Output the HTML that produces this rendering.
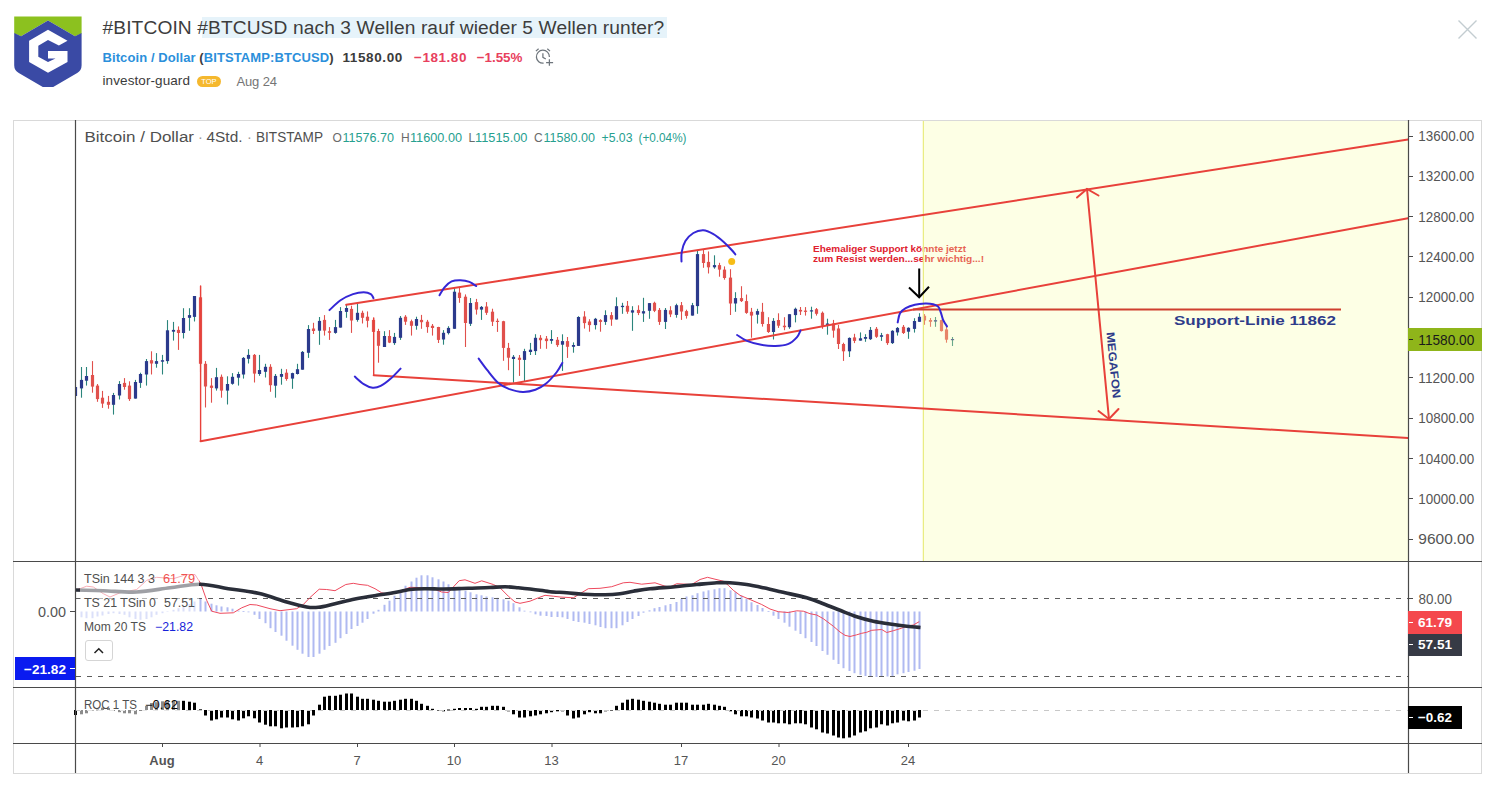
<!DOCTYPE html>
<html lang="de"><head><meta charset="utf-8"><title>#BITCOIN #BTCUSD nach 3 Wellen rauf wieder 5 Wellen runter?</title>
<style>
html,body{margin:0;padding:0;background:#fff;}
body{width:1499px;height:785px;position:relative;overflow:hidden;font-family:"Liberation Sans",sans-serif;color:#3b3b3b;}
.abs{position:absolute;white-space:nowrap;line-height:1;}
#hl{left:202px;top:17px;width:465px;height:21px;background:#e6f3fa;}
#title{left:102.5px;top:16.8px;font-size:19.2px;letter-spacing:0.1px;color:#3d3d3d;height:22px;line-height:22px;}
#sym{left:102.5px;top:51.4px;font-size:13px;letter-spacing:0.09px;font-weight:bold;color:#3b3b3b;}
#sym a{color:#2b8fdb;text-decoration:none;}
#price{left:342.5px;top:50.9px;font-size:13.5px;letter-spacing:0.6px;font-weight:bold;color:#3b3b3b;}
#chg{left:414px;top:50.9px;font-size:13.5px;letter-spacing:0.54px;font-weight:bold;color:#e8405d;}
#pct{left:476.7px;top:50.9px;font-size:13.4px;font-weight:bold;color:#e8405d;}
#user{left:102.5px;top:74.2px;font-size:13.5px;letter-spacing:0.09px;color:#3b3b3b;}
#top{left:197px;top:76px;width:24px;height:10.5px;border-radius:6px;background:#f5b82e;color:#fff;font-size:7.5px;line-height:11px;text-align:center;}
#date{left:236.4px;top:74.5px;font-size:13px;letter-spacing:-0.1px;color:#757575;}
svg{position:absolute;left:0;top:0;}
svg text{font-family:"Liberation Sans",sans-serif;}
</style></head><body>

<svg id="logo" width="90" height="100" viewBox="0 0 90 100" style="left:0;top:0">
<polygon fill="#8cc11f" points="14.2,16.6 81.6,16.6 81.6,33.5 75.0,36.2 48.0,20.6 21.1,36.2 14.2,33.5"/>
<path fill="#3a4aa5" d="M14.2 33.0 L21.1 36.2 L48.0 20.4 L75.0 36.2 L81.6 33.0 L81.6 65.3 Q81.6 70.5 77.2 73.1 L53.2 86.9 L42.8 86.9 L18.8 73.1 Q14.2 70.5 14.2 65.3 Z"/>
<polygon fill="#fff" points="67.5,40.7 58.9,45.6 48.0,40.1 38.3,45.8 38.3,56.7 48.0,61.9 55.5,58.5 48.0,58.5 48.0,51.0 67.5,51.0 67.5,61.9 48.0,72.8 29.1,61.9 29.1,40.7 48.0,29.8"/>
</svg>
<div id="hl" class="abs"></div><div id="title" class="abs">#BITCOIN #BTCUSD nach 3 Wellen rauf wieder 5 Wellen runter?</div>
<div id="sym" class="abs"><a>Bitcoin / Dollar</a> (<a>BITSTAMP:BTCUSD</a>)</div>
<div id="price" class="abs">11580.00</div><div id="chg" class="abs">&#8722;181.80</div><div id="pct" class="abs">&#8722;1.55%</div>
<div id="user" class="abs">investor-guard</div><div id="top" class="abs">TOP</div><div id="date" class="abs">Aug 24</div>
<svg width="1499" height="785" viewBox="0 0 1499 785">
<g fill="none" stroke="#6e757c" stroke-width="1.25"><path d="M549.4 56.9A6.5 6.5 0 1 0 543.6 63.2"/><path d="M542.9 53.2v4.2l2.9 1.6"/><path d="M535.9 51.1l2.7-2.4M547.3 48.7l2.7 2.4"/><path d="M549.4 59.2v6.6M546.1 62.5h7"/></g>
<path d="M1458.5 20.5L1476.5 38.5M1476.5 20.5L1458.5 38.5" stroke="#c3cdd1" stroke-width="1.4" fill="none"/>
<rect x="13.5" y="120.5" width="1468" height="653" fill="#fff" stroke="#d9d9d9" stroke-width="1"/>
<g id="candles">
<path d="M75.5 385.0V398.0" stroke="#2b857c" stroke-width="1.1"/>
<rect x="73.9" y="387.0" width="3.2" height="9.0" fill="#2b3a8c"/>
<path d="M81.5 367.0V397.7" stroke="#2b857c" stroke-width="1.1"/>
<rect x="79.9" y="379.9" width="3.2" height="8.5" fill="#2b3a8c"/>
<path d="M86.5 367.0V385.6" stroke="#2b857c" stroke-width="1.1"/>
<rect x="84.9" y="376.0" width="3.2" height="4.7" fill="#2b3a8c"/>
<path d="M92.5 361.1V392.7" stroke="#e0504c" stroke-width="1.1"/>
<rect x="90.9" y="375.0" width="3.2" height="11.6" fill="#e0504c"/>
<path d="M97.5 384.0V401.8" stroke="#e0504c" stroke-width="1.1"/>
<rect x="95.9" y="385.6" width="3.2" height="13.5" fill="#e0504c"/>
<path d="M102.5 390.9V407.9" stroke="#e0504c" stroke-width="1.1"/>
<rect x="100.9" y="397.7" width="3.2" height="5.9" fill="#e0504c"/>
<path d="M108.5 395.9V408.7" stroke="#e0504c" stroke-width="1.1"/>
<rect x="106.9" y="401.8" width="3.2" height="3.0" fill="#e0504c"/>
<path d="M113.5 392.9V414.6" stroke="#2b857c" stroke-width="1.1"/>
<rect x="111.9" y="395.0" width="3.2" height="9.8" fill="#2b3a8c"/>
<path d="M119.5 381.1V399.5" stroke="#2b857c" stroke-width="1.1"/>
<rect x="117.9" y="384.0" width="3.2" height="11.5" fill="#2b3a8c"/>
<path d="M124.5 378.1V389.7" stroke="#e0504c" stroke-width="1.1"/>
<rect x="122.9" y="382.9" width="3.2" height="4.1" fill="#e0504c"/>
<path d="M129.5 381.3V400.9" stroke="#e0504c" stroke-width="1.1"/>
<rect x="127.9" y="385.6" width="3.2" height="13.5" fill="#e0504c"/>
<path d="M135.5 379.9V398.6" stroke="#2b857c" stroke-width="1.1"/>
<rect x="133.9" y="382.0" width="3.2" height="16.6" fill="#2b3a8c"/>
<path d="M140.5 372.7V387.9" stroke="#2b857c" stroke-width="1.1"/>
<rect x="138.9" y="374.0" width="3.2" height="8.9" fill="#2b3a8c"/>
<path d="M146.5 359.0V385.6" stroke="#2b857c" stroke-width="1.1"/>
<rect x="144.9" y="361.1" width="3.2" height="13.4" fill="#2b3a8c"/>
<path d="M151.5 351.3V374.5" stroke="#e0504c" stroke-width="1.1"/>
<rect x="149.9" y="360.2" width="3.2" height="3.3" fill="#e0504c"/>
<path d="M156.5 353.1V367.7" stroke="#2b857c" stroke-width="1.1"/>
<rect x="154.9" y="361.1" width="3.2" height="2.7" fill="#2b3a8c"/>
<path d="M162.5 354.9V374.5" stroke="#2b857c" stroke-width="1.1"/>
<rect x="160.9" y="360.2" width="3.2" height="1.5" fill="#2b3a8c"/>
<path d="M167.5 320.1V363.8" stroke="#2b857c" stroke-width="1.1"/>
<rect x="165.9" y="330.3" width="3.2" height="30.8" fill="#2b3a8c"/>
<path d="M173.5 321.9V340.6" stroke="#2b857c" stroke-width="1.1"/>
<rect x="171.9" y="329.9" width="3.2" height="1.8" fill="#2b3a8c"/>
<path d="M178.5 326.4V349.9" stroke="#e0504c" stroke-width="1.1"/>
<rect x="176.9" y="329.9" width="3.2" height="3.1" fill="#e0504c"/>
<path d="M183.5 308.2V338.5" stroke="#2b857c" stroke-width="1.1"/>
<rect x="181.9" y="318.0" width="3.2" height="15.0" fill="#2b3a8c"/>
<path d="M189.5 308.2V330.8" stroke="#2b857c" stroke-width="1.1"/>
<rect x="187.9" y="315.1" width="3.2" height="2.7" fill="#2b3a8c"/>
<path d="M194.5 296.0V321.5" stroke="#2b857c" stroke-width="1.1"/>
<rect x="192.9" y="296.0" width="3.2" height="20.9" fill="#2b3a8c"/>
<path d="M200.5 286.2V372.0" stroke="#e0504c" stroke-width="1.1"/>
<rect x="198.9" y="297.3" width="3.2" height="66.5" fill="#e0504c"/>
<path d="M205.5 361.1V407.5" stroke="#e0504c" stroke-width="1.1"/>
<rect x="203.9" y="363.8" width="3.2" height="22.7" fill="#e0504c"/>
<path d="M211.5 378.1V402.7" stroke="#e0504c" stroke-width="1.1"/>
<rect x="209.9" y="385.6" width="3.2" height="2.3" fill="#e0504c"/>
<path d="M216.5 367.9V390.6" stroke="#2b857c" stroke-width="1.1"/>
<rect x="214.9" y="377.2" width="3.2" height="11.2" fill="#2b3a8c"/>
<path d="M221.5 374.5V397.7" stroke="#e0504c" stroke-width="1.1"/>
<rect x="219.9" y="376.8" width="3.2" height="13.8" fill="#e0504c"/>
<path d="M227.5 376.3V404.5" stroke="#2b857c" stroke-width="1.1"/>
<rect x="225.9" y="384.0" width="3.2" height="6.6" fill="#2b3a8c"/>
<path d="M232.5 373.1V384.7" stroke="#2b857c" stroke-width="1.1"/>
<rect x="230.9" y="376.8" width="3.2" height="7.0" fill="#2b3a8c"/>
<path d="M238.5 371.8V385.6" stroke="#2b857c" stroke-width="1.1"/>
<rect x="236.9" y="374.0" width="3.2" height="3.7" fill="#2b3a8c"/>
<path d="M243.5 357.0V378.6" stroke="#2b857c" stroke-width="1.1"/>
<rect x="241.9" y="357.9" width="3.2" height="16.6" fill="#2b3a8c"/>
<path d="M248.5 349.2V363.5" stroke="#2b857c" stroke-width="1.1"/>
<rect x="246.9" y="354.9" width="3.2" height="3.9" fill="#2b3a8c"/>
<path d="M254.5 354.0V382.5" stroke="#e0504c" stroke-width="1.1"/>
<rect x="252.9" y="354.9" width="3.2" height="18.7" fill="#e0504c"/>
<path d="M259.5 354.9V375.8" stroke="#2b857c" stroke-width="1.1"/>
<rect x="257.9" y="370.0" width="3.2" height="4.0" fill="#2b3a8c"/>
<path d="M265.5 363.8V377.5" stroke="#2b857c" stroke-width="1.1"/>
<rect x="263.9" y="366.8" width="3.2" height="5.0" fill="#2b3a8c"/>
<path d="M270.5 364.2V391.8" stroke="#e0504c" stroke-width="1.1"/>
<rect x="268.9" y="366.8" width="3.2" height="18.4" fill="#e0504c"/>
<path d="M275.5 374.0V397.7" stroke="#2b857c" stroke-width="1.1"/>
<rect x="273.9" y="375.9" width="3.2" height="9.8" fill="#2b3a8c"/>
<path d="M281.5 368.8V384.7" stroke="#2b857c" stroke-width="1.1"/>
<rect x="279.9" y="374.0" width="3.2" height="2.8" fill="#2b3a8c"/>
<path d="M286.5 369.2V380.7" stroke="#e0504c" stroke-width="1.1"/>
<rect x="284.9" y="372.7" width="3.2" height="6.3" fill="#e0504c"/>
<path d="M292.5 372.7V388.8" stroke="#2b857c" stroke-width="1.1"/>
<rect x="290.9" y="373.1" width="3.2" height="5.5" fill="#2b3a8c"/>
<path d="M297.5 363.8V374.5" stroke="#2b857c" stroke-width="1.1"/>
<rect x="295.9" y="369.2" width="3.2" height="4.8" fill="#2b3a8c"/>
<path d="M302.5 351.0V369.7" stroke="#2b857c" stroke-width="1.1"/>
<rect x="300.9" y="351.9" width="3.2" height="17.8" fill="#2b3a8c"/>
<path d="M308.5 325.1V357.9" stroke="#2b857c" stroke-width="1.1"/>
<rect x="306.9" y="329.0" width="3.2" height="23.8" fill="#2b3a8c"/>
<path d="M313.5 322.8V334.0" stroke="#e0504c" stroke-width="1.1"/>
<rect x="311.9" y="328.5" width="3.2" height="2.5" fill="#e0504c"/>
<path d="M319.5 317.0V344.8" stroke="#2b857c" stroke-width="1.1"/>
<rect x="317.9" y="320.9" width="3.2" height="9.8" fill="#2b3a8c"/>
<path d="M324.5 315.1V335.6" stroke="#e0504c" stroke-width="1.1"/>
<rect x="322.9" y="319.9" width="3.2" height="10.7" fill="#e0504c"/>
<path d="M329.5 327.1V339.9" stroke="#e0504c" stroke-width="1.1"/>
<rect x="327.9" y="331.2" width="3.2" height="1.6" fill="#e0504c"/>
<path d="M335.5 319.9V333.7" stroke="#2b857c" stroke-width="1.1"/>
<rect x="333.9" y="327.1" width="3.2" height="5.8" fill="#2b3a8c"/>
<path d="M340.5 307.1V327.6" stroke="#2b857c" stroke-width="1.1"/>
<rect x="338.9" y="311.0" width="3.2" height="16.6" fill="#2b3a8c"/>
<path d="M346.5 304.8V317.8" stroke="#2b857c" stroke-width="1.1"/>
<rect x="344.9" y="308.0" width="3.2" height="3.9" fill="#2b3a8c"/>
<path d="M351.5 305.7V332.9" stroke="#e0504c" stroke-width="1.1"/>
<rect x="349.9" y="308.9" width="3.2" height="11.6" fill="#e0504c"/>
<path d="M357.5 303.9V321.7" stroke="#2b857c" stroke-width="1.1"/>
<rect x="355.9" y="312.8" width="3.2" height="7.1" fill="#2b3a8c"/>
<path d="M362.5 310.7V323.5" stroke="#e0504c" stroke-width="1.1"/>
<rect x="360.9" y="312.8" width="3.2" height="5.0" fill="#e0504c"/>
<path d="M367.5 311.4V327.4" stroke="#e0504c" stroke-width="1.1"/>
<rect x="365.9" y="316.7" width="3.2" height="4.1" fill="#e0504c"/>
<path d="M373.5 317.8V340.0" stroke="#e0504c" stroke-width="1.1"/>
<rect x="371.9" y="319.9" width="3.2" height="12.0" fill="#e0504c"/>
<path d="M378.5 328.8V362.7" stroke="#e0504c" stroke-width="1.1"/>
<rect x="376.9" y="331.0" width="3.2" height="14.8" fill="#e0504c"/>
<path d="M384.5 331.2V347.0" stroke="#2b857c" stroke-width="1.1"/>
<rect x="382.9" y="336.0" width="3.2" height="11.0" fill="#2b3a8c"/>
<path d="M389.5 330.1V343.1" stroke="#e0504c" stroke-width="1.1"/>
<rect x="387.9" y="336.0" width="3.2" height="6.6" fill="#e0504c"/>
<path d="M394.5 332.9V344.9" stroke="#2b857c" stroke-width="1.1"/>
<rect x="392.9" y="336.9" width="3.2" height="6.2" fill="#2b3a8c"/>
<path d="M400.5 316.0V339.9" stroke="#2b857c" stroke-width="1.1"/>
<rect x="398.9" y="317.8" width="3.2" height="20.0" fill="#2b3a8c"/>
<path d="M405.5 315.1V324.9" stroke="#e0504c" stroke-width="1.1"/>
<rect x="403.9" y="316.7" width="3.2" height="5.0" fill="#e0504c"/>
<path d="M411.5 319.6V335.6" stroke="#e0504c" stroke-width="1.1"/>
<rect x="409.9" y="321.2" width="3.2" height="4.6" fill="#e0504c"/>
<path d="M416.5 316.7V329.7" stroke="#2b857c" stroke-width="1.1"/>
<rect x="414.9" y="319.0" width="3.2" height="6.8" fill="#2b3a8c"/>
<path d="M421.5 314.9V328.8" stroke="#e0504c" stroke-width="1.1"/>
<rect x="419.9" y="319.9" width="3.2" height="2.3" fill="#e0504c"/>
<path d="M427.5 319.9V332.8" stroke="#e0504c" stroke-width="1.1"/>
<rect x="425.9" y="321.7" width="3.2" height="5.4" fill="#e0504c"/>
<path d="M432.5 324.0V335.6" stroke="#e0504c" stroke-width="1.1"/>
<rect x="430.9" y="325.8" width="3.2" height="2.2" fill="#e0504c"/>
<path d="M438.5 326.8V343.0" stroke="#e0504c" stroke-width="1.1"/>
<rect x="436.9" y="327.0" width="3.2" height="12.9" fill="#e0504c"/>
<path d="M443.5 330.1V344.7" stroke="#2b857c" stroke-width="1.1"/>
<rect x="441.9" y="332.8" width="3.2" height="6.7" fill="#2b3a8c"/>
<path d="M448.5 326.2V334.5" stroke="#2b857c" stroke-width="1.1"/>
<rect x="446.9" y="327.9" width="3.2" height="5.2" fill="#2b3a8c"/>
<path d="M454.5 288.2V328.8" stroke="#2b857c" stroke-width="1.1"/>
<rect x="452.9" y="291.7" width="3.2" height="37.1" fill="#2b3a8c"/>
<path d="M459.5 287.8V302.8" stroke="#e0504c" stroke-width="1.1"/>
<rect x="457.9" y="292.6" width="3.2" height="5.4" fill="#e0504c"/>
<path d="M465.5 294.4V347.0" stroke="#e0504c" stroke-width="1.1"/>
<rect x="463.9" y="296.7" width="3.2" height="26.3" fill="#e0504c"/>
<path d="M470.5 298.0V326.0" stroke="#2b857c" stroke-width="1.1"/>
<rect x="468.9" y="303.0" width="3.2" height="20.8" fill="#2b3a8c"/>
<path d="M476.5 298.9V314.6" stroke="#e0504c" stroke-width="1.1"/>
<rect x="474.9" y="302.1" width="3.2" height="7.5" fill="#e0504c"/>
<path d="M481.5 306.0V319.9" stroke="#2b857c" stroke-width="1.1"/>
<rect x="479.9" y="306.9" width="3.2" height="2.7" fill="#2b3a8c"/>
<path d="M486.5 302.1V314.9" stroke="#e0504c" stroke-width="1.1"/>
<rect x="484.9" y="306.5" width="3.2" height="6.3" fill="#e0504c"/>
<path d="M492.5 308.7V326.0" stroke="#e0504c" stroke-width="1.1"/>
<rect x="490.9" y="311.7" width="3.2" height="10.0" fill="#e0504c"/>
<path d="M497.5 318.5V331.9" stroke="#e0504c" stroke-width="1.1"/>
<rect x="495.9" y="320.8" width="3.2" height="1.2" fill="#e0504c"/>
<path d="M503.5 320.8V360.8" stroke="#e0504c" stroke-width="1.1"/>
<rect x="501.9" y="321.2" width="3.2" height="26.7" fill="#e0504c"/>
<path d="M508.5 342.9V370.2" stroke="#e0504c" stroke-width="1.1"/>
<rect x="506.9" y="347.9" width="3.2" height="9.8" fill="#e0504c"/>
<path d="M513.5 355.0V382.7" stroke="#2b857c" stroke-width="1.1"/>
<rect x="511.9" y="356.8" width="3.2" height="2.2" fill="#2b3a8c"/>
<path d="M519.5 355.0V375.9" stroke="#e0504c" stroke-width="1.1"/>
<rect x="517.9" y="357.7" width="3.2" height="2.2" fill="#e0504c"/>
<path d="M524.5 348.8V381.3" stroke="#2b857c" stroke-width="1.1"/>
<rect x="522.9" y="351.1" width="3.2" height="8.8" fill="#2b3a8c"/>
<path d="M530.5 342.9V355.0" stroke="#2b857c" stroke-width="1.1"/>
<rect x="528.9" y="349.7" width="3.2" height="2.3" fill="#2b3a8c"/>
<path d="M535.5 334.2V355.0" stroke="#2b857c" stroke-width="1.1"/>
<rect x="533.9" y="337.8" width="3.2" height="13.3" fill="#2b3a8c"/>
<path d="M540.5 335.1V348.8" stroke="#e0504c" stroke-width="1.1"/>
<rect x="538.9" y="337.8" width="3.2" height="2.4" fill="#e0504c"/>
<path d="M546.5 336.0V348.8" stroke="#e0504c" stroke-width="1.1"/>
<rect x="544.9" y="338.6" width="3.2" height="2.5" fill="#e0504c"/>
<path d="M551.5 330.1V343.8" stroke="#2b857c" stroke-width="1.1"/>
<rect x="549.9" y="339.0" width="3.2" height="1.8" fill="#2b3a8c"/>
<path d="M557.5 337.0V346.9" stroke="#e0504c" stroke-width="1.1"/>
<rect x="555.9" y="339.8" width="3.2" height="5.3" fill="#e0504c"/>
<path d="M562.5 334.3V370.9" stroke="#2b857c" stroke-width="1.1"/>
<rect x="560.9" y="341.1" width="3.2" height="3.6" fill="#2b3a8c"/>
<path d="M567.5 337.0V357.9" stroke="#e0504c" stroke-width="1.1"/>
<rect x="565.9" y="341.1" width="3.2" height="5.7" fill="#e0504c"/>
<path d="M573.5 342.4V352.7" stroke="#2b857c" stroke-width="1.1"/>
<rect x="571.9" y="345.0" width="3.2" height="1.8" fill="#2b3a8c"/>
<path d="M578.5 316.2V345.9" stroke="#2b857c" stroke-width="1.1"/>
<rect x="576.9" y="317.0" width="3.2" height="28.9" fill="#2b3a8c"/>
<path d="M584.5 311.2V328.6" stroke="#e0504c" stroke-width="1.1"/>
<rect x="582.9" y="316.5" width="3.2" height="6.6" fill="#e0504c"/>
<path d="M589.5 319.2V331.7" stroke="#e0504c" stroke-width="1.1"/>
<rect x="587.9" y="321.5" width="3.2" height="3.6" fill="#e0504c"/>
<path d="M595.5 317.9V329.5" stroke="#2b857c" stroke-width="1.1"/>
<rect x="593.9" y="318.8" width="3.2" height="6.3" fill="#2b3a8c"/>
<path d="M600.5 319.2V331.7" stroke="#e0504c" stroke-width="1.1"/>
<rect x="598.9" y="320.1" width="3.2" height="1.8" fill="#e0504c"/>
<path d="M605.5 310.3V324.9" stroke="#2b857c" stroke-width="1.1"/>
<rect x="603.9" y="315.1" width="3.2" height="6.8" fill="#2b3a8c"/>
<path d="M611.5 312.1V325.8" stroke="#e0504c" stroke-width="1.1"/>
<rect x="609.9" y="315.1" width="3.2" height="4.4" fill="#e0504c"/>
<path d="M616.5 297.3V319.5" stroke="#2b857c" stroke-width="1.1"/>
<rect x="614.9" y="306.2" width="3.2" height="13.3" fill="#2b3a8c"/>
<path d="M622.5 302.8V313.8" stroke="#2b857c" stroke-width="1.1"/>
<rect x="620.9" y="305.8" width="3.2" height="1.3" fill="#2b3a8c"/>
<path d="M627.5 301.0V313.8" stroke="#e0504c" stroke-width="1.1"/>
<rect x="625.9" y="305.8" width="3.2" height="5.9" fill="#e0504c"/>
<path d="M632.5 306.2V330.8" stroke="#2b857c" stroke-width="1.1"/>
<rect x="630.9" y="310.3" width="3.2" height="2.3" fill="#2b3a8c"/>
<path d="M638.5 305.3V315.1" stroke="#e0504c" stroke-width="1.1"/>
<rect x="636.9" y="309.9" width="3.2" height="3.1" fill="#e0504c"/>
<path d="M643.5 297.8V321.9" stroke="#2b857c" stroke-width="1.1"/>
<rect x="641.9" y="311.2" width="3.2" height="2.3" fill="#2b3a8c"/>
<path d="M649.5 303.1V318.8" stroke="#2b857c" stroke-width="1.1"/>
<rect x="647.9" y="303.1" width="3.2" height="7.7" fill="#2b3a8c"/>
<path d="M654.5 301.7V312.1" stroke="#e0504c" stroke-width="1.1"/>
<rect x="652.9" y="302.8" width="3.2" height="8.0" fill="#e0504c"/>
<path d="M659.5 308.0V324.9" stroke="#e0504c" stroke-width="1.1"/>
<rect x="657.9" y="309.9" width="3.2" height="12.0" fill="#e0504c"/>
<path d="M665.5 308.0V329.0" stroke="#2b857c" stroke-width="1.1"/>
<rect x="663.9" y="309.9" width="3.2" height="12.0" fill="#2b3a8c"/>
<path d="M670.5 306.2V317.1" stroke="#e0504c" stroke-width="1.1"/>
<rect x="668.9" y="310.3" width="3.2" height="4.1" fill="#e0504c"/>
<path d="M676.5 303.7V317.7" stroke="#2b857c" stroke-width="1.1"/>
<rect x="674.9" y="305.2" width="3.2" height="9.7" fill="#2b3a8c"/>
<path d="M681.5 302.0V319.9" stroke="#e0504c" stroke-width="1.1"/>
<rect x="679.9" y="305.2" width="3.2" height="6.3" fill="#e0504c"/>
<path d="M686.5 309.7V318.6" stroke="#e0504c" stroke-width="1.1"/>
<rect x="684.9" y="311.1" width="3.2" height="4.8" fill="#e0504c"/>
<path d="M692.5 302.9V315.6" stroke="#2b857c" stroke-width="1.1"/>
<rect x="690.9" y="305.2" width="3.2" height="10.4" fill="#2b3a8c"/>
<path d="M697.5 250.5V313.8" stroke="#2b857c" stroke-width="1.1"/>
<rect x="695.9" y="254.1" width="3.2" height="52.0" fill="#2b3a8c"/>
<path d="M703.5 249.1V267.8" stroke="#e0504c" stroke-width="1.1"/>
<rect x="701.9" y="254.1" width="3.2" height="8.9" fill="#e0504c"/>
<path d="M708.5 251.4V273.5" stroke="#e0504c" stroke-width="1.1"/>
<rect x="706.9" y="261.9" width="3.2" height="5.4" fill="#e0504c"/>
<path d="M714.5 255.3V268.7" stroke="#2b857c" stroke-width="1.1"/>
<rect x="712.9" y="265.1" width="3.2" height="2.2" fill="#2b3a8c"/>
<path d="M719.5 262.8V276.7" stroke="#e0504c" stroke-width="1.1"/>
<rect x="717.9" y="265.1" width="3.2" height="4.5" fill="#e0504c"/>
<path d="M724.5 266.4V279.7" stroke="#e0504c" stroke-width="1.1"/>
<rect x="722.9" y="269.6" width="3.2" height="8.4" fill="#e0504c"/>
<path d="M730.5 269.2V315.0" stroke="#e0504c" stroke-width="1.1"/>
<rect x="728.9" y="277.6" width="3.2" height="25.9" fill="#e0504c"/>
<path d="M735.5 292.2V311.8" stroke="#2b857c" stroke-width="1.1"/>
<rect x="733.9" y="298.1" width="3.2" height="5.4" fill="#2b3a8c"/>
<path d="M741.5 286.2V302.0" stroke="#e0504c" stroke-width="1.1"/>
<rect x="739.9" y="298.1" width="3.2" height="3.0" fill="#e0504c"/>
<path d="M746.5 294.5V313.8" stroke="#e0504c" stroke-width="1.1"/>
<rect x="744.9" y="301.1" width="3.2" height="11.8" fill="#e0504c"/>
<path d="M751.5 307.9V337.7" stroke="#e0504c" stroke-width="1.1"/>
<rect x="749.9" y="311.8" width="3.2" height="3.8" fill="#e0504c"/>
<path d="M757.5 308.8V323.6" stroke="#2b857c" stroke-width="1.1"/>
<rect x="755.9" y="311.1" width="3.2" height="3.6" fill="#2b3a8c"/>
<path d="M762.5 302.9V326.6" stroke="#e0504c" stroke-width="1.1"/>
<rect x="760.9" y="311.8" width="3.2" height="12.2" fill="#e0504c"/>
<path d="M768.5 317.2V332.9" stroke="#e0504c" stroke-width="1.1"/>
<rect x="766.9" y="324.0" width="3.2" height="8.0" fill="#e0504c"/>
<path d="M773.5 318.1V339.5" stroke="#2b857c" stroke-width="1.1"/>
<rect x="771.9" y="320.9" width="3.2" height="11.1" fill="#2b3a8c"/>
<path d="M778.5 313.3V327.9" stroke="#e0504c" stroke-width="1.1"/>
<rect x="776.9" y="320.0" width="3.2" height="5.7" fill="#e0504c"/>
<path d="M784.5 317.2V330.2" stroke="#e0504c" stroke-width="1.1"/>
<rect x="782.9" y="325.7" width="3.2" height="1.5" fill="#e0504c"/>
<path d="M789.5 314.2V328.8" stroke="#2b857c" stroke-width="1.1"/>
<rect x="787.9" y="314.2" width="3.2" height="13.0" fill="#2b3a8c"/>
<path d="M795.5 307.6V322.4" stroke="#2b857c" stroke-width="1.1"/>
<rect x="793.9" y="308.8" width="3.2" height="6.3" fill="#2b3a8c"/>
<path d="M800.5 307.0V315.0" stroke="#e0504c" stroke-width="1.1"/>
<rect x="798.9" y="309.9" width="3.2" height="1.6" fill="#e0504c"/>
<path d="M805.5 307.1V315.6" stroke="#e0504c" stroke-width="1.1"/>
<rect x="803.9" y="310.6" width="3.2" height="1.3" fill="#e0504c"/>
<path d="M811.5 306.7V318.7" stroke="#2b857c" stroke-width="1.1"/>
<rect x="809.9" y="310.3" width="3.2" height="1.2" fill="#2b3a8c"/>
<path d="M816.5 308.0V315.6" stroke="#e0504c" stroke-width="1.1"/>
<rect x="814.9" y="309.2" width="3.2" height="4.6" fill="#e0504c"/>
<path d="M822.5 311.5V328.8" stroke="#e0504c" stroke-width="1.1"/>
<rect x="820.9" y="312.8" width="3.2" height="13.0" fill="#e0504c"/>
<path d="M827.5 318.7V334.7" stroke="#2b857c" stroke-width="1.1"/>
<rect x="825.9" y="323.5" width="3.2" height="1.7" fill="#2b3a8c"/>
<path d="M833.5 319.9V337.7" stroke="#e0504c" stroke-width="1.1"/>
<rect x="831.9" y="323.5" width="3.2" height="7.1" fill="#e0504c"/>
<path d="M838.5 324.9V349.0" stroke="#e0504c" stroke-width="1.1"/>
<rect x="836.9" y="328.5" width="3.2" height="15.5" fill="#e0504c"/>
<path d="M843.5 342.7V360.9" stroke="#e0504c" stroke-width="1.1"/>
<rect x="841.9" y="344.0" width="3.2" height="7.3" fill="#e0504c"/>
<path d="M849.5 337.4V357.0" stroke="#2b857c" stroke-width="1.1"/>
<rect x="847.9" y="337.9" width="3.2" height="13.4" fill="#2b3a8c"/>
<path d="M854.5 333.8V343.1" stroke="#e0504c" stroke-width="1.1"/>
<rect x="852.9" y="337.4" width="3.2" height="3.5" fill="#e0504c"/>
<path d="M860.5 332.4V340.6" stroke="#2b857c" stroke-width="1.1"/>
<rect x="858.9" y="338.3" width="3.2" height="2.3" fill="#2b3a8c"/>
<path d="M865.5 334.2V341.8" stroke="#2b857c" stroke-width="1.1"/>
<rect x="863.9" y="337.0" width="3.2" height="1.8" fill="#2b3a8c"/>
<path d="M870.5 327.0V340.0" stroke="#2b857c" stroke-width="1.1"/>
<rect x="868.9" y="329.9" width="3.2" height="9.3" fill="#2b3a8c"/>
<path d="M876.5 327.0V337.9" stroke="#e0504c" stroke-width="1.1"/>
<rect x="874.9" y="328.8" width="3.2" height="8.0" fill="#e0504c"/>
<path d="M881.5 332.9V340.9" stroke="#2b857c" stroke-width="1.1"/>
<rect x="879.9" y="335.2" width="3.2" height="1.6" fill="#2b3a8c"/>
<path d="M887.5 333.8V344.9" stroke="#e0504c" stroke-width="1.1"/>
<rect x="885.9" y="334.2" width="3.2" height="8.9" fill="#e0504c"/>
<path d="M892.5 330.2V344.0" stroke="#2b857c" stroke-width="1.1"/>
<rect x="890.9" y="330.8" width="3.2" height="12.3" fill="#2b3a8c"/>
<path d="M897.5 327.0V335.6" stroke="#2b857c" stroke-width="1.1"/>
<rect x="895.9" y="327.9" width="3.2" height="4.5" fill="#2b3a8c"/>
<path d="M903.5 325.0V334.0" stroke="#e0504c" stroke-width="1.1"/>
<rect x="901.9" y="326.8" width="3.2" height="6.2" fill="#e0504c"/>
<path d="M908.5 327.3V338.8" stroke="#2b857c" stroke-width="1.1"/>
<rect x="906.9" y="327.8" width="3.2" height="3.9" fill="#2b3a8c"/>
<path d="M914.5 318.2V332.6" stroke="#2b857c" stroke-width="1.1"/>
<rect x="912.9" y="321.0" width="3.2" height="7.9" fill="#2b3a8c"/>
<path d="M919.5 313.2V321.8" stroke="#2b857c" stroke-width="1.1"/>
<rect x="917.9" y="316.8" width="3.2" height="5.0" fill="#2b3a8c"/>
<path d="M924.5 314.1V324.8" stroke="#e0504c" stroke-width="1.1"/>
<rect x="922.9" y="315.8" width="3.2" height="4.7" fill="#e0504c"/>
<path d="M930.5 318.0V326.8" stroke="#e0504c" stroke-width="1.1"/>
<rect x="928.9" y="320.0" width="3.2" height="1.8" fill="#e0504c"/>
<path d="M935.5 317.0V326.8" stroke="#2b857c" stroke-width="1.1"/>
<rect x="933.9" y="320.1" width="3.2" height="1.5" fill="#2b3a8c"/>
<path d="M941.5 319.7V331.5" stroke="#e0504c" stroke-width="1.1"/>
<rect x="939.9" y="320.1" width="3.2" height="11.0" fill="#e0504c"/>
<path d="M946.5 326.4V342.7" stroke="#e0504c" stroke-width="1.1"/>
<rect x="944.9" y="329.4" width="3.2" height="10.3" fill="#e0504c"/>
<path d="M952.5 337.0V346.0" stroke="#2b857c" stroke-width="1.1"/>
<rect x="950.9" y="339.0" width="3.2" height="1.2" fill="#2b3a8c"/>
</g>
<g font-weight="bold" font-size="9.2" fill="#e0212f"><text x="813" y="251.5" textLength="153" lengthAdjust="spacingAndGlyphs">Ehemaliger Support k&#246;nnte jetzt</text><text x="813" y="261.5" textLength="171" lengthAdjust="spacingAndGlyphs">zum Resist werden...sehr wichtig...!</text></g>
<rect x="922.6" y="121" width="485.4" height="440" fill="rgba(248,255,170,0.3)"/>
<rect x="922.8" y="121" width="1.2" height="440" fill="#e9ec84"/>
<rect x="14" y="121" width="61" height="440" fill="#fff"/>
<g stroke="#e8413a" stroke-width="2" fill="none" stroke-linecap="round">
<path d="M346.2 304.8L1408 139.6"/>
<path d="M200.6 441.2L1408 218.2"/>
<path d="M373.7 375.2L1408 438"/>
<path d="M200.6 286V441.2" stroke-width="1.4"/>
<path d="M373.7 318V375.2" stroke-width="1.4"/>
<path d="M1087 189L1109 419"/>
<path d="M1077 197.5L1087 189L1098.5 195.5"/>
<path d="M1098.5 411L1109 419L1118.5 409"/>
</g>
<path d="M913 309.5H1341" stroke="#cf3f2f" stroke-width="2.2"/>
<g stroke="#3527d6" stroke-width="2" fill="none" stroke-linecap="round" stroke-linejoin="round">
<path d="M329.5 310.1C331.3 308.5 336.6 303.0 340.5 300.3C344.4 297.6 349.1 295.4 353.0 294.1C356.9 292.8 360.7 292.3 363.7 292.3C366.7 292.3 369.2 293.1 370.8 294.1C372.4 295.1 373.1 297.5 373.5 298.2"/>
<path d="M354.8 376.6C356.3 377.9 360.7 382.2 363.7 384.1C366.7 386.0 369.8 387.4 372.6 387.7C375.4 388.0 377.7 387.4 380.7 385.9C383.7 384.4 387.2 381.7 390.5 378.8C393.8 375.9 398.9 370.3 400.6 368.6"/>
<path d="M439.5 295.3C440.3 294.0 442.5 289.6 444.5 287.3C446.5 285.0 448.9 282.6 451.6 281.4C454.3 280.2 457.5 280.1 460.5 280.2C463.5 280.3 466.8 280.9 469.4 281.9C472.0 282.9 475.1 285.3 476.2 286.0"/>
<path d="M478.7 358.6C480.1 360.5 484.1 366.2 487.3 370.2C490.5 374.2 494.4 379.6 498.0 382.7C501.6 385.8 504.6 387.3 508.7 388.9C512.9 390.4 518.4 391.9 522.9 392.0C527.4 392.1 531.5 391.2 535.4 389.8C539.3 388.4 542.5 386.6 546.1 383.6C549.7 380.6 554.1 375.4 556.8 372.0C559.5 368.6 561.4 364.4 562.3 362.9"/>
<path d="M681.5 261.6C681.5 260.0 681.1 255.1 681.8 251.7C682.4 248.3 683.5 244.1 685.4 241.0C687.3 237.9 690.4 234.8 693.4 233.0C696.4 231.2 699.9 230.2 703.2 230.3C706.5 230.5 709.6 232.0 713.0 233.9C716.4 235.8 720.6 239.2 723.7 241.9C726.8 244.6 729.8 247.9 731.7 250.0C733.6 252.1 734.7 253.7 735.3 254.4"/>
<path d="M737.1 335.0C738.7 336.0 742.9 339.3 746.9 340.9C750.9 342.5 756.5 344.0 761.2 344.8C766.0 345.6 771.0 346.0 775.4 345.9C779.8 345.8 784.3 345.5 787.9 344.1C791.5 342.7 794.7 339.6 796.8 337.3C798.9 335.0 799.9 331.6 800.5 330.5"/>
<path d="M897.7 322.4C898.1 320.9 898.7 315.7 900.0 313.3C901.3 310.9 903.2 309.5 905.7 308.1C908.2 306.7 911.6 305.5 914.9 304.7C918.1 303.9 922.2 303.6 925.2 303.5C928.2 303.4 931.0 303.7 933.2 304.3C935.4 304.9 937.1 305.6 938.4 306.9C939.6 308.2 939.9 310.0 940.7 312.1C941.5 314.2 942.0 317.2 943.0 319.6C944.0 322.0 946.3 325.3 947.0 326.4"/>
</g>
<g stroke="#000" stroke-width="2" fill="none"><path d="M919.2 268.5V297"/><path d="M909 287.5L919.2 297.3L929 286.8"/></g>
<circle cx="731.7" cy="261.5" r="3.5" fill="#f7bd17"/>
<text x="1174" y="324.5" font-size="13.5" font-weight="bold" fill="#2e3b8a" textLength="162" lengthAdjust="spacingAndGlyphs">Support-Linie 11862</text>
<text transform="translate(1106.5,332.5) rotate(84.5)" font-size="11.3" font-weight="bold" fill="#2e3b8a" textLength="66.5" lengthAdjust="spacingAndGlyphs">MEGAFON</text>
<g fill="#4f4f4f"><text x="84.5" y="142" font-size="15.2" textLength="109.5" lengthAdjust="spacingAndGlyphs">Bitcoin / Dollar</text>
<text x="198" y="142" font-size="14.5" fill="#999">&#183;</text><text x="206.5" y="142" font-size="15.2" textLength="36" lengthAdjust="spacingAndGlyphs">4Std.</text><text x="247" y="142" font-size="14.5" fill="#999">&#183;</text>
<text x="256" y="142" font-size="15.2" textLength="67" lengthAdjust="spacingAndGlyphs">BITSTAMP</text></g>
<text x="332.5" y="142" font-size="12" fill="#6a6a6a">O</text><text x="342.5" y="142" font-size="13" fill="#26a08f" textLength="51.5" lengthAdjust="spacingAndGlyphs">11576.70</text>
<text x="401" y="142" font-size="12" fill="#6a6a6a">H</text><text x="410" y="142" font-size="13" fill="#26a08f" textLength="52" lengthAdjust="spacingAndGlyphs">11600.00</text>
<text x="468.5" y="142" font-size="12" fill="#6a6a6a">L</text><text x="475" y="142" font-size="13" fill="#26a08f" textLength="52.5" lengthAdjust="spacingAndGlyphs">11515.00</text>
<text x="534" y="142" font-size="12" fill="#6a6a6a">C</text><text x="543.5" y="142" font-size="13" fill="#26a08f" textLength="51.5" lengthAdjust="spacingAndGlyphs">11580.00</text>
<text x="601.5" y="142" font-size="13" fill="#26a08f" textLength="31" lengthAdjust="spacingAndGlyphs">+5.03</text><text x="638.5" y="142" font-size="13" fill="#26a08f" textLength="48" lengthAdjust="spacingAndGlyphs">(+0.04%)</text>
<g fill="#b0baf1">
<rect x="80.5" y="611.5" width="2" height="5.8"/>
<rect x="85.5" y="611.5" width="2" height="6.7"/>
<rect x="91.5" y="611.5" width="2" height="6.7"/>
<rect x="96.5" y="611.5" width="2" height="5.0"/>
<rect x="101.5" y="611.5" width="2" height="4.0"/>
<rect x="107.5" y="611.5" width="2" height="2.5"/>
<rect x="112.5" y="611.5" width="2" height="1.7"/>
<rect x="118.5" y="611.5" width="2" height="2.5"/>
<rect x="123.5" y="611.5" width="2" height="3.3"/>
<rect x="128.5" y="611.5" width="2" height="5.8"/>
<rect x="134.5" y="611.5" width="2" height="7.5"/>
<rect x="139.5" y="611.5" width="2" height="8.3"/>
<rect x="145.5" y="611.5" width="2" height="7.5"/>
<rect x="150.5" y="611.5" width="2" height="5.8"/>
<rect x="155.5" y="611.5" width="2" height="3.3"/>
<rect x="161.5" y="611.5" width="2" height="1.7"/>
<rect x="166.5" y="611.5" width="2" height="0.5"/>
<rect x="172.5" y="609.8" width="2" height="1.7"/>
<rect x="177.5" y="608.2" width="2" height="3.3"/>
<rect x="182.5" y="606.5" width="2" height="5.0"/>
<rect x="188.5" y="604.0" width="2" height="7.5"/>
<rect x="193.5" y="601.5" width="2" height="10.0"/>
<rect x="199.5" y="599.0" width="2" height="12.5"/>
<rect x="204.5" y="601.5" width="2" height="10.0"/>
<rect x="210.5" y="603.7" width="2" height="7.8"/>
<rect x="215.5" y="605.3" width="2" height="6.2"/>
<rect x="220.5" y="606.5" width="2" height="5.0"/>
<rect x="226.5" y="607.3" width="2" height="4.2"/>
<rect x="231.5" y="608.7" width="2" height="2.8"/>
<rect x="237.5" y="610.7" width="2" height="0.8"/>
<rect x="242.5" y="611.0" width="2" height="0.8"/>
<rect x="247.5" y="611.5" width="2" height="0.8"/>
<rect x="253.5" y="611.5" width="2" height="3.3"/>
<rect x="258.5" y="611.5" width="2" height="7.5"/>
<rect x="264.5" y="611.5" width="2" height="11.7"/>
<rect x="269.5" y="611.5" width="2" height="16.7"/>
<rect x="274.5" y="611.5" width="2" height="20.5"/>
<rect x="280.5" y="611.5" width="2" height="24.2"/>
<rect x="285.5" y="611.5" width="2" height="29.2"/>
<rect x="291.5" y="611.5" width="2" height="34.2"/>
<rect x="296.5" y="611.5" width="2" height="38.3"/>
<rect x="301.5" y="611.5" width="2" height="42.2"/>
<rect x="307.5" y="611.5" width="2" height="45.5"/>
<rect x="312.5" y="611.5" width="2" height="45.5"/>
<rect x="318.5" y="611.5" width="2" height="42.2"/>
<rect x="323.5" y="611.5" width="2" height="38.3"/>
<rect x="328.5" y="611.5" width="2" height="34.5"/>
<rect x="334.5" y="611.5" width="2" height="31.3"/>
<rect x="339.5" y="611.5" width="2" height="26.7"/>
<rect x="345.5" y="611.5" width="2" height="22.5"/>
<rect x="350.5" y="611.5" width="2" height="17.5"/>
<rect x="356.5" y="611.5" width="2" height="14.5"/>
<rect x="361.5" y="611.5" width="2" height="11.2"/>
<rect x="366.5" y="611.5" width="2" height="7.5"/>
<rect x="372.5" y="611.5" width="2" height="2.2"/>
<rect x="377.5" y="609.8" width="2" height="1.7"/>
<rect x="383.5" y="604.8" width="2" height="6.7"/>
<rect x="388.5" y="600.7" width="2" height="10.8"/>
<rect x="393.5" y="595.7" width="2" height="15.8"/>
<rect x="399.5" y="593.2" width="2" height="18.3"/>
<rect x="404.5" y="585.7" width="2" height="25.8"/>
<rect x="410.5" y="581.5" width="2" height="30.0"/>
<rect x="415.5" y="577.7" width="2" height="33.8"/>
<rect x="420.5" y="575.3" width="2" height="36.2"/>
<rect x="426.5" y="575.3" width="2" height="36.2"/>
<rect x="431.5" y="577.3" width="2" height="34.2"/>
<rect x="437.5" y="579.3" width="2" height="32.2"/>
<rect x="442.5" y="581.5" width="2" height="30.0"/>
<rect x="447.5" y="584.3" width="2" height="27.2"/>
<rect x="453.5" y="587.7" width="2" height="23.8"/>
<rect x="458.5" y="589.8" width="2" height="21.7"/>
<rect x="464.5" y="590.7" width="2" height="20.8"/>
<rect x="469.5" y="592.3" width="2" height="19.2"/>
<rect x="475.5" y="594.3" width="2" height="17.2"/>
<rect x="480.5" y="595.3" width="2" height="16.2"/>
<rect x="485.5" y="596.5" width="2" height="15.0"/>
<rect x="491.5" y="597.3" width="2" height="14.2"/>
<rect x="496.5" y="597.8" width="2" height="13.7"/>
<rect x="502.5" y="599.3" width="2" height="12.2"/>
<rect x="507.5" y="600.7" width="2" height="10.8"/>
<rect x="512.5" y="603.2" width="2" height="8.3"/>
<rect x="518.5" y="607.3" width="2" height="4.2"/>
<rect x="523.5" y="610.7" width="2" height="0.8"/>
<rect x="529.5" y="611.5" width="2" height="0.8"/>
<rect x="534.5" y="611.5" width="2" height="2.8"/>
<rect x="539.5" y="611.5" width="2" height="4.2"/>
<rect x="545.5" y="611.5" width="2" height="4.5"/>
<rect x="550.5" y="611.5" width="2" height="5.5"/>
<rect x="556.5" y="611.5" width="2" height="5.5"/>
<rect x="561.5" y="611.5" width="2" height="5.8"/>
<rect x="566.5" y="611.5" width="2" height="7.5"/>
<rect x="572.5" y="611.5" width="2" height="9.5"/>
<rect x="577.5" y="611.5" width="2" height="10.5"/>
<rect x="583.5" y="611.5" width="2" height="11.2"/>
<rect x="588.5" y="611.5" width="2" height="12.5"/>
<rect x="594.5" y="611.5" width="2" height="13.8"/>
<rect x="599.5" y="611.5" width="2" height="15.5"/>
<rect x="604.5" y="611.5" width="2" height="16.7"/>
<rect x="610.5" y="611.5" width="2" height="16.7"/>
<rect x="615.5" y="611.5" width="2" height="16.7"/>
<rect x="621.5" y="611.5" width="2" height="13.8"/>
<rect x="626.5" y="611.5" width="2" height="10.5"/>
<rect x="631.5" y="611.5" width="2" height="7.5"/>
<rect x="637.5" y="611.5" width="2" height="4.5"/>
<rect x="642.5" y="611.5" width="2" height="1.2"/>
<rect x="648.5" y="610.3" width="2" height="1.2"/>
<rect x="653.5" y="608.2" width="2" height="3.3"/>
<rect x="658.5" y="607.0" width="2" height="4.5"/>
<rect x="664.5" y="605.3" width="2" height="6.2"/>
<rect x="669.5" y="604.0" width="2" height="7.5"/>
<rect x="675.5" y="602.0" width="2" height="9.5"/>
<rect x="680.5" y="598.7" width="2" height="12.8"/>
<rect x="685.5" y="596.5" width="2" height="15.0"/>
<rect x="691.5" y="595.3" width="2" height="16.2"/>
<rect x="696.5" y="593.2" width="2" height="18.3"/>
<rect x="702.5" y="591.5" width="2" height="20.0"/>
<rect x="707.5" y="590.3" width="2" height="21.2"/>
<rect x="713.5" y="589.3" width="2" height="22.2"/>
<rect x="718.5" y="588.2" width="2" height="23.3"/>
<rect x="723.5" y="588.2" width="2" height="23.3"/>
<rect x="729.5" y="590.3" width="2" height="21.2"/>
<rect x="734.5" y="592.3" width="2" height="19.2"/>
<rect x="740.5" y="595.7" width="2" height="15.8"/>
<rect x="745.5" y="598.7" width="2" height="12.8"/>
<rect x="750.5" y="602.3" width="2" height="9.2"/>
<rect x="756.5" y="605.0" width="2" height="6.5"/>
<rect x="761.5" y="608.0" width="2" height="3.5"/>
<rect x="767.5" y="611.1" width="2" height="0.8"/>
<rect x="772.5" y="611.5" width="2" height="4.2"/>
<rect x="777.5" y="611.5" width="2" height="7.5"/>
<rect x="783.5" y="611.5" width="2" height="11.2"/>
<rect x="788.5" y="611.5" width="2" height="15.2"/>
<rect x="794.5" y="611.5" width="2" height="19.2"/>
<rect x="799.5" y="611.5" width="2" height="22.5"/>
<rect x="804.5" y="611.5" width="2" height="26.7"/>
<rect x="810.5" y="611.5" width="2" height="30.5"/>
<rect x="815.5" y="611.5" width="2" height="34.5"/>
<rect x="821.5" y="611.5" width="2" height="39.5"/>
<rect x="826.5" y="611.5" width="2" height="43.3"/>
<rect x="832.5" y="611.5" width="2" height="48.3"/>
<rect x="837.5" y="611.5" width="2" height="52.5"/>
<rect x="842.5" y="611.5" width="2" height="56.7"/>
<rect x="848.5" y="611.5" width="2" height="59.5"/>
<rect x="853.5" y="611.5" width="2" height="61.7"/>
<rect x="859.5" y="611.5" width="2" height="63.3"/>
<rect x="864.5" y="611.5" width="2" height="64.5"/>
<rect x="869.5" y="611.5" width="2" height="65.5"/>
<rect x="875.5" y="611.5" width="2" height="65.5"/>
<rect x="880.5" y="611.5" width="2" height="65.5"/>
<rect x="886.5" y="611.5" width="2" height="65.0"/>
<rect x="891.5" y="611.5" width="2" height="65.0"/>
<rect x="896.5" y="611.5" width="2" height="62.8"/>
<rect x="902.5" y="611.5" width="2" height="61.7"/>
<rect x="907.5" y="611.5" width="2" height="60.5"/>
<rect x="913.5" y="611.5" width="2" height="59.2"/>
<rect x="918.5" y="611.5" width="2" height="57.5"/>
</g>
<path d="M76 598.5H1408M76 676.5H1408" stroke="#5c5c5c" stroke-width="1" stroke-dasharray="5 6" fill="none"/>
<polyline fill="none" stroke="#ee4a5e" stroke-width="1" stroke-linejoin="round" points="75.8,590.3 86.7,586.2 93.3,587.0 103.3,593.7 110.0,597.0 120.0,592.8 136.7,589.5 146.7,580.3 156.7,577.3 173.3,578.7 186.7,574.5 195.0,574.5 200.8,583.7 206.7,600.3 211.7,611.2 220.0,613.3 233.3,612.8 241.7,607.8 250.0,604.5 256.7,605.0 270.0,608.7 280.0,610.7 296.7,608.7 303.3,604.5 310.0,597.5 319.2,589.2 326.7,589.5 335.0,590.7 345.8,584.5 353.3,583.3 360.0,584.5 367.5,585.3 375.0,588.7 381.7,592.8 390.0,594.5 398.3,592.0 410.0,587.3 426.7,587.8 433.3,588.7 441.7,592.0 448.3,592.5 453.3,587.0 459.2,580.7 465.0,579.8 475.0,583.3 481.7,580.8 493.3,584.5 500.0,587.8 508.3,596.2 515.0,602.0 520.0,603.3 530.0,601.2 538.3,597.8 545.0,595.3 553.3,596.2 560.0,597.0 573.3,597.8 580.0,593.7 588.3,588.7 600.0,588.3 611.7,586.7 623.3,582.8 630.0,582.3 641.7,584.2 655.0,582.8 665.0,586.2 670.0,587.0 676.7,583.7 691.7,584.5 700.0,579.5 707.5,577.3 715.0,579.2 723.3,581.2 728.3,585.3 733.3,590.3 740.0,595.3 750.0,599.5 761.7,604.5 770.0,609.0 778.3,611.7 788.3,612.5 796.7,610.8 803.3,611.2 810.0,613.7 816.7,615.0 823.3,618.7 833.3,626.2 840.0,632.0 845.0,635.3 850.0,636.5 856.7,634.8 861.7,633.3 866.7,632.3 871.7,630.3 881.7,629.5 886.7,632.5 893.3,630.7 901.7,628.2 906.7,626.2 913.3,625.0 919.2,621.7"/>
<path fill="none" stroke="#2a2e39" stroke-width="3.6" stroke-linejoin="round" d="M75.8 590.0C80.4 590.1 93.2 590.4 103.3 590.7C113.4 591.0 125.6 592.5 136.7 592.0C147.8 591.5 159.4 589.1 170.0 587.8C180.6 586.5 190.3 584.1 200.0 584.2C209.7 584.4 218.6 587.2 228.3 588.7C238.0 590.2 248.6 591.1 258.3 593.3C268.0 595.5 278.6 599.7 286.7 602.0C294.8 604.3 301.4 606.1 306.7 607.0C312.0 607.9 313.6 607.8 318.3 607.3C323.0 606.8 328.9 605.1 335.0 603.7C341.1 602.3 348.1 600.4 355.0 599.0C361.9 597.6 370.3 596.3 376.7 595.3C383.1 594.3 387.8 593.8 393.3 592.8C398.9 591.8 404.4 590.2 410.0 589.5C415.6 588.8 421.1 588.8 426.7 588.7C432.2 588.6 436.4 589.1 443.3 589.0C450.2 588.9 460.5 588.5 468.3 588.3C476.1 588.0 483.9 587.8 490.0 587.5C496.1 587.2 500.3 586.7 505.0 586.7C509.7 586.8 512.5 587.2 518.3 587.8C524.1 588.4 534.7 589.6 540.0 590.3C545.3 590.9 545.5 591.3 550.0 591.7C554.5 592.1 561.2 592.4 566.7 592.8C572.2 593.2 576.9 593.9 583.3 594.2C589.7 594.5 598.9 594.9 605.0 594.8C611.1 594.7 615.3 594.3 620.0 593.7C624.7 593.1 628.3 592.0 633.3 591.2C638.3 590.4 643.0 589.5 650.0 588.7C657.0 588.0 667.2 587.4 675.0 586.7C682.8 586.0 689.8 585.1 696.7 584.5C703.7 583.9 711.2 583.1 716.7 582.8C722.2 582.5 725.0 582.5 730.0 582.8C735.0 583.1 741.2 583.7 746.7 584.5C752.2 585.3 757.5 586.5 763.3 587.8C769.1 589.0 774.5 590.3 781.7 592.0C788.9 593.7 799.8 595.8 806.7 597.8C813.6 599.8 817.8 601.6 823.3 603.7C828.8 605.8 834.4 608.1 840.0 610.3C845.6 612.5 851.2 614.9 856.7 616.7C862.2 618.5 867.8 620.0 873.3 621.2C878.8 622.4 884.4 623.2 890.0 624.0C895.6 624.8 901.6 625.6 906.7 626.2C911.8 626.8 918.2 627.3 920.5 627.5"/>
<g fill="#000">
<rect x="74" y="710.0" width="3" height="5.0"/>
<rect x="80" y="710.0" width="3" height="4.3"/>
<rect x="85" y="710.0" width="3" height="3.3"/>
<rect x="91" y="710.0" width="3" height="0.6"/>
<rect x="96" y="709.5" width="3" height="1.0"/>
<rect x="101" y="707.7" width="3" height="2.3"/>
<rect x="107" y="708.0" width="3" height="2.0"/>
<rect x="112" y="710.0" width="3" height="1.0"/>
<rect x="118" y="710.0" width="3" height="2.2"/>
<rect x="123" y="710.0" width="3" height="3.3"/>
<rect x="128" y="710.0" width="3" height="3.3"/>
<rect x="134" y="710.0" width="3" height="4.3"/>
<rect x="139" y="710.0" width="3" height="1.0"/>
<rect x="145" y="706.0" width="3" height="4.0"/>
<rect x="150" y="703.0" width="3" height="7.0"/>
<rect x="155" y="702.2" width="3" height="7.8"/>
<rect x="161" y="701.3" width="3" height="8.7"/>
<rect x="166" y="701.3" width="3" height="8.7"/>
<rect x="172" y="700.8" width="3" height="9.2"/>
<rect x="177" y="700.8" width="3" height="9.2"/>
<rect x="182" y="700.8" width="3" height="9.2"/>
<rect x="188" y="701.7" width="3" height="8.3"/>
<rect x="193" y="702.7" width="3" height="7.3"/>
<rect x="199" y="709.3" width="3" height="1.0"/>
<rect x="204" y="710.0" width="3" height="5.5"/>
<rect x="210" y="710.0" width="3" height="10.5"/>
<rect x="215" y="710.0" width="3" height="9.3"/>
<rect x="220" y="710.0" width="3" height="7.5"/>
<rect x="226" y="710.0" width="3" height="7.5"/>
<rect x="231" y="710.0" width="3" height="9.3"/>
<rect x="237" y="710.0" width="3" height="10.5"/>
<rect x="242" y="710.0" width="3" height="8.3"/>
<rect x="247" y="710.0" width="3" height="6.3"/>
<rect x="253" y="710.0" width="3" height="8.3"/>
<rect x="258" y="710.0" width="3" height="12.5"/>
<rect x="264" y="710.0" width="3" height="14.7"/>
<rect x="269" y="710.0" width="3" height="16.3"/>
<rect x="274" y="710.0" width="3" height="16.3"/>
<rect x="280" y="710.0" width="3" height="18.3"/>
<rect x="285" y="710.0" width="3" height="17.5"/>
<rect x="291" y="710.0" width="3" height="17.5"/>
<rect x="296" y="710.0" width="3" height="17.2"/>
<rect x="301" y="710.0" width="3" height="16.3"/>
<rect x="307" y="710.0" width="3" height="14.3"/>
<rect x="312" y="710.0" width="3" height="5.5"/>
<rect x="318" y="704.7" width="3" height="5.3"/>
<rect x="323" y="696.7" width="3" height="13.3"/>
<rect x="328" y="695.8" width="3" height="14.2"/>
<rect x="334" y="695.8" width="3" height="14.2"/>
<rect x="339" y="694.7" width="3" height="15.3"/>
<rect x="345" y="693.5" width="3" height="16.5"/>
<rect x="350" y="693.5" width="3" height="16.5"/>
<rect x="356" y="696.7" width="3" height="13.3"/>
<rect x="361" y="698.8" width="3" height="11.2"/>
<rect x="366" y="698.8" width="3" height="11.2"/>
<rect x="372" y="699.7" width="3" height="10.3"/>
<rect x="377" y="700.8" width="3" height="9.2"/>
<rect x="383" y="701.7" width="3" height="8.3"/>
<rect x="388" y="701.7" width="3" height="8.3"/>
<rect x="393" y="700.8" width="3" height="9.2"/>
<rect x="399" y="699.7" width="3" height="10.3"/>
<rect x="404" y="698.8" width="3" height="11.2"/>
<rect x="410" y="698.8" width="3" height="11.2"/>
<rect x="415" y="700.8" width="3" height="9.2"/>
<rect x="420" y="703.8" width="3" height="6.2"/>
<rect x="426" y="705.8" width="3" height="4.2"/>
<rect x="431" y="708.8" width="3" height="1.2"/>
<rect x="437" y="710.0" width="3" height="0.6"/>
<rect x="442" y="710.0" width="3" height="1.3"/>
<rect x="447" y="709.5" width="3" height="1.0"/>
<rect x="453" y="708.8" width="3" height="1.2"/>
<rect x="458" y="708.0" width="3" height="2.0"/>
<rect x="464" y="708.0" width="3" height="2.0"/>
<rect x="469" y="708.0" width="3" height="2.0"/>
<rect x="475" y="708.8" width="3" height="1.2"/>
<rect x="480" y="706.8" width="3" height="3.2"/>
<rect x="485" y="706.8" width="3" height="3.2"/>
<rect x="491" y="705.8" width="3" height="4.2"/>
<rect x="496" y="705.8" width="3" height="4.2"/>
<rect x="502" y="706.8" width="3" height="3.2"/>
<rect x="507" y="710.0" width="3" height="1.3"/>
<rect x="512" y="710.0" width="3" height="4.3"/>
<rect x="518" y="710.0" width="3" height="7.5"/>
<rect x="523" y="710.0" width="3" height="7.5"/>
<rect x="529" y="710.0" width="3" height="6.3"/>
<rect x="534" y="710.0" width="3" height="5.5"/>
<rect x="539" y="710.0" width="3" height="4.3"/>
<rect x="545" y="710.0" width="3" height="3.3"/>
<rect x="550" y="710.0" width="3" height="2.2"/>
<rect x="556" y="710.0" width="3" height="1.3"/>
<rect x="561" y="710.0" width="3" height="1.3"/>
<rect x="566" y="710.0" width="3" height="5.5"/>
<rect x="572" y="710.0" width="3" height="8.5"/>
<rect x="577" y="710.0" width="3" height="7.5"/>
<rect x="583" y="710.0" width="3" height="4.3"/>
<rect x="588" y="710.0" width="3" height="2.2"/>
<rect x="594" y="710.0" width="3" height="3.3"/>
<rect x="599" y="710.0" width="3" height="3.3"/>
<rect x="604" y="710.0" width="3" height="1.3"/>
<rect x="610" y="710.0" width="3" height="0.6"/>
<rect x="615" y="705.8" width="3" height="4.2"/>
<rect x="621" y="702.7" width="3" height="7.3"/>
<rect x="626" y="699.7" width="3" height="10.3"/>
<rect x="631" y="698.8" width="3" height="11.2"/>
<rect x="637" y="699.7" width="3" height="10.3"/>
<rect x="642" y="700.8" width="3" height="9.2"/>
<rect x="648" y="701.7" width="3" height="8.3"/>
<rect x="653" y="702.7" width="3" height="7.3"/>
<rect x="658" y="703.8" width="3" height="6.2"/>
<rect x="664" y="704.7" width="3" height="5.3"/>
<rect x="669" y="704.7" width="3" height="5.3"/>
<rect x="675" y="702.7" width="3" height="7.3"/>
<rect x="680" y="702.7" width="3" height="7.3"/>
<rect x="685" y="702.7" width="3" height="7.3"/>
<rect x="691" y="704.7" width="3" height="5.3"/>
<rect x="696" y="704.7" width="3" height="5.3"/>
<rect x="702" y="704.7" width="3" height="5.3"/>
<rect x="707" y="703.8" width="3" height="6.2"/>
<rect x="713" y="704.7" width="3" height="5.3"/>
<rect x="718" y="705.8" width="3" height="4.2"/>
<rect x="723" y="706.8" width="3" height="3.2"/>
<rect x="729" y="710.0" width="3" height="1.3"/>
<rect x="734" y="710.0" width="3" height="4.3"/>
<rect x="740" y="710.0" width="3" height="6.3"/>
<rect x="745" y="710.0" width="3" height="6.3"/>
<rect x="750" y="710.0" width="3" height="7.5"/>
<rect x="756" y="710.0" width="3" height="8.5"/>
<rect x="761" y="710.0" width="3" height="10.5"/>
<rect x="767" y="710.0" width="3" height="12.5"/>
<rect x="772" y="710.0" width="3" height="12.5"/>
<rect x="777" y="710.0" width="3" height="13.3"/>
<rect x="783" y="710.0" width="3" height="13.3"/>
<rect x="788" y="710.0" width="3" height="14.3"/>
<rect x="794" y="710.0" width="3" height="13.3"/>
<rect x="799" y="710.0" width="3" height="13.3"/>
<rect x="804" y="710.0" width="3" height="14.3"/>
<rect x="810" y="710.0" width="3" height="17.5"/>
<rect x="815" y="710.0" width="3" height="19.3"/>
<rect x="821" y="710.0" width="3" height="22.5"/>
<rect x="826" y="710.0" width="3" height="23.5"/>
<rect x="832" y="710.0" width="3" height="25.5"/>
<rect x="837" y="710.0" width="3" height="27.5"/>
<rect x="842" y="710.0" width="3" height="28.3"/>
<rect x="848" y="710.0" width="3" height="27.5"/>
<rect x="853" y="710.0" width="3" height="25.5"/>
<rect x="859" y="710.0" width="3" height="22.5"/>
<rect x="864" y="710.0" width="3" height="21.3"/>
<rect x="869" y="710.0" width="3" height="18.3"/>
<rect x="875" y="710.0" width="3" height="17.5"/>
<rect x="880" y="710.0" width="3" height="14.3"/>
<rect x="886" y="710.0" width="3" height="15.5"/>
<rect x="891" y="710.0" width="3" height="13.3"/>
<rect x="896" y="710.0" width="3" height="12.5"/>
<rect x="902" y="710.0" width="3" height="10.5"/>
<rect x="907" y="710.0" width="3" height="11.3"/>
<rect x="913" y="710.0" width="3" height="10.5"/>
<rect x="918" y="710.0" width="3" height="7.5"/>
</g>
<path d="M76 710.5H1408" stroke="#c8c8c8" stroke-width="1" stroke-dasharray="5 6"/>
<rect x="80" y="569" width="119" height="68" fill="rgba(255,255,255,0.55)"/>
<rect x="80" y="695" width="101" height="20" fill="rgba(255,255,255,0.55)"/>
<g font-size="12" fill="#4f4f4f"><text x="84" y="583" textLength="71" lengthAdjust="spacingAndGlyphs">TSin 144 3 3</text><text x="163" y="583" fill="#ef5350" textLength="32" lengthAdjust="spacingAndGlyphs">61.79</text>
<text x="84" y="607" textLength="72" lengthAdjust="spacingAndGlyphs">TS 21 TSin 0</text><text x="164" y="607" textLength="31" lengthAdjust="spacingAndGlyphs">57.51</text>
<text x="84" y="631" textLength="62" lengthAdjust="spacingAndGlyphs">Mom 20 TS</text><text x="155" y="631" fill="#1522d9" textLength="38" lengthAdjust="spacingAndGlyphs">&#8722;21.82</text>
<text x="84" y="709" textLength="53" lengthAdjust="spacingAndGlyphs">ROC 1 TS</text><text x="145" y="709" fill="#000" textLength="33" lengthAdjust="spacingAndGlyphs">&#8722;0.62</text></g>
<rect x="85.5" y="640.5" width="27" height="20" rx="2.5" fill="#fff" stroke="#d5d5d5"/><path d="M94.5 653L98.8 648.7L103 653" stroke="#222" stroke-width="1.5" fill="none"/>
<path d="M13 561.5H1482M13 687.5H1482M13 743.5H1482" stroke="#4a4a4a" stroke-width="1.2"/>
<path d="M75.5 120V773M1408.5 120V773" stroke="#4a4a4a" stroke-width="1.2"/>
<g font-size="14" fill="#555">
<path d="M1408 539.5h5" stroke="#4a4a4a"/>
<text x="1418.3" y="544.2" textLength="56" lengthAdjust="spacingAndGlyphs">9600.00</text>
<path d="M1408 498.5h5" stroke="#4a4a4a"/>
<text x="1418.3" y="503.9" textLength="56" lengthAdjust="spacingAndGlyphs">10000.00</text>
<path d="M1408 458.5h5" stroke="#4a4a4a"/>
<text x="1418.3" y="463.6" textLength="56" lengthAdjust="spacingAndGlyphs">10400.00</text>
<path d="M1408 418.5h5" stroke="#4a4a4a"/>
<text x="1418.3" y="423.2" textLength="56" lengthAdjust="spacingAndGlyphs">10800.00</text>
<path d="M1408 377.5h5" stroke="#4a4a4a"/>
<text x="1418.3" y="382.9" textLength="56" lengthAdjust="spacingAndGlyphs">11200.00</text>
<path d="M1408 337.5h5" stroke="#4a4a4a"/>
<text x="1418.3" y="342.6" textLength="56" lengthAdjust="spacingAndGlyphs">11600.00</text>
<path d="M1408 297.5h5" stroke="#4a4a4a"/>
<text x="1418.3" y="302.3" textLength="56" lengthAdjust="spacingAndGlyphs">12000.00</text>
<path d="M1408 256.5h5" stroke="#4a4a4a"/>
<text x="1418.3" y="262.0" textLength="56" lengthAdjust="spacingAndGlyphs">12400.00</text>
<path d="M1408 216.5h5" stroke="#4a4a4a"/>
<text x="1418.3" y="221.6" textLength="56" lengthAdjust="spacingAndGlyphs">12800.00</text>
<path d="M1408 176.5h5" stroke="#4a4a4a"/>
<text x="1418.3" y="181.3" textLength="56" lengthAdjust="spacingAndGlyphs">13200.00</text>
<path d="M1408 136.5h5" stroke="#4a4a4a"/>
<text x="1418.3" y="141.0" textLength="56" lengthAdjust="spacingAndGlyphs">13600.00</text>
</g>
<rect x="1408" y="328" width="74" height="23" fill="#8fb51a"/><path d="M1409 339.5h4" stroke="#222"/><text x="1418.3" y="345" font-size="14" fill="#1a1a1a" textLength="56" lengthAdjust="spacingAndGlyphs">11580.00</text>
<path d="M1408 598.5h5" stroke="#4a4a4a"/><text x="1418.5" y="603.7" font-size="14" fill="#555" textLength="33.5" lengthAdjust="spacingAndGlyphs">80.00</text>
<rect x="1408" y="611" width="54" height="23" fill="#f4484d"/><rect x="1408" y="634" width="54" height="22" fill="#363a45"/><path d="M1409 622.5h4M1409 644.5h4" stroke="#fff"/>
<g font-size="13.5" font-weight="bold" fill="#fff"><text x="1418" y="626.7" textLength="34" lengthAdjust="spacingAndGlyphs">61.79</text><text x="1418" y="649" textLength="34" lengthAdjust="spacingAndGlyphs">57.51</text></g>
<rect x="1408" y="706" width="54" height="23" fill="#000"/><path d="M1409 717.5h4" stroke="#fff"/><text x="1418" y="722" font-size="13.5" font-weight="bold" fill="#fff" textLength="34" lengthAdjust="spacingAndGlyphs">&#8722;0.62</text>
<path d="M70 611.5h5" stroke="#4a4a4a"/><text x="38" y="617" font-size="14" fill="#555" textLength="28" lengthAdjust="spacingAndGlyphs">0.00</text>
<rect x="15" y="657" width="60" height="23" fill="#0a1bf0"/><path d="M70 668.5h5" stroke="#fff"/><text x="24" y="674" font-size="13.5" font-weight="bold" fill="#fff" textLength="42" lengthAdjust="spacingAndGlyphs">&#8722;21.82</text>
<g font-size="13" fill="#555" text-anchor="middle">
<path d="M162.5 743v4" stroke="#4a4a4a"/>
<text x="162.0" y="765" font-weight="bold">Aug</text>
<path d="M260.0 743v4" stroke="#4a4a4a"/>
<text x="259.5" y="765">4</text>
<path d="M357.5 743v4" stroke="#4a4a4a"/>
<text x="357.0" y="765">7</text>
<path d="M454.5 743v4" stroke="#4a4a4a"/>
<text x="454.0" y="765">10</text>
<path d="M552.0 743v4" stroke="#4a4a4a"/>
<text x="551.5" y="765">13</text>
<path d="M681.5 743v4" stroke="#4a4a4a"/>
<text x="681.0" y="765">17</text>
<path d="M779.0 743v4" stroke="#4a4a4a"/>
<text x="778.5" y="765">20</text>
<path d="M908.5 743v4" stroke="#4a4a4a"/>
<text x="908.0" y="765">24</text>
</g>
</svg></body></html>
